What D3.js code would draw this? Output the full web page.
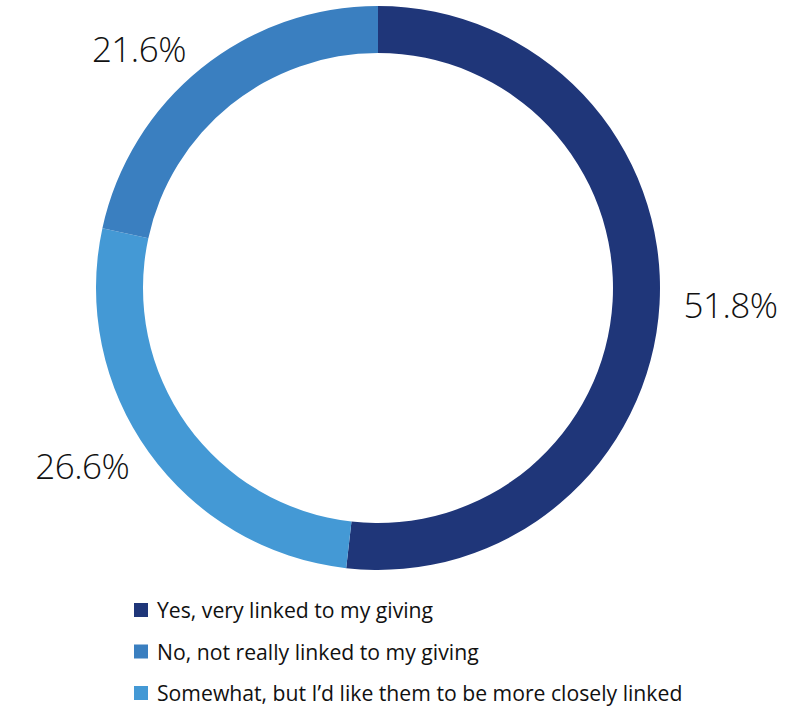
<!DOCTYPE html>
<html>
<head>
<meta charset="utf-8">
<script src="https://cdn.jsdelivr.net/npm/d3@7"></script>
<style>
  html, body { margin: 0; padding: 0; background: #fff; }
  svg { display: block; font-family: "Open Sans", sans-serif; }
</style>
</head>
<body>
<svg id="chart" width="789" height="709"></svg>
<script>
// Slices in drawing order (clockwise from 12 o'clock)
const sliceCategories = ["Yes, very linked to my giving", "Somewhat, but I\u2019d like them to be more closely linked", "No, not really linked to my giving"];
const sliceValues = [51.8, 26.6, 21.6];
const sliceLabels = ["51.8%", "26.6%", "21.6%"];
// Legend order
const legendCategories = ["Yes, very linked to my giving", "No, not really linked to my giving", "Somewhat, but I\u2019d like them to be more closely linked"];
const colors = ["#1f3679", "#3a7fc0", "#4499d5"];

const svg = d3.select("#chart");
const cx = 378, cy = 288, outerR = 282, innerR = 235, labelR = 306;

const color = d3.scaleOrdinal().domain(legendCategories).range(colors);

const pie = d3.pie().sort(null).value(d => d.value);
const data = sliceCategories.map((c, i) => ({cat: c, value: sliceValues[i], label: sliceLabels[i]}));
const arcs = pie(data);

const arc = d3.arc().innerRadius(innerR).outerRadius(outerR);
const labelArc = d3.arc().innerRadius(labelR).outerRadius(labelR);

const g = svg.append("g").attr("transform", `translate(${cx},${cy})`);

g.selectAll("path.slice")
  .data(arcs)
  .join("path")
  .attr("class", "slice")
  .attr("d", arc)
  .attr("fill", d => color(d.data.cat));

g.selectAll("text.lbl")
  .data(arcs)
  .join("text")
  .attr("class", "lbl")
  .attr("transform", d => {
    const [x, y] = labelArc.centroid(d);
    return `translate(${x},${y})`;
  })
  .attr("text-anchor", d => ((d.startAngle + d.endAngle) / 2) < Math.PI ? "start" : "end")
  .attr("dy", "0.35em")
  .attr("font-size", 35)
  .attr("font-weight", 300)
  .attr("letter-spacing", -0.5)
  .attr("fill", "#111")
  .text(d => d.data.label);

// Legend
const legend = svg.append("g").attr("transform", "translate(134,603)");
const rowY = d3.scalePoint().domain(legendCategories).range([0, 83]);
const items = legend.selectAll("g.item")
  .data(legendCategories)
  .join("g")
  .attr("class", "item")
  .attr("transform", d => `translate(0,${rowY(d)})`);
items.append("rect")
  .attr("width", 14).attr("height", 14)
  .attr("fill", d => color(d));
items.append("text")
  .attr("x", 23).attr("y", 8).attr("dy", "0.35em")
  .attr("font-size", 21.2)
  .attr("fill", "#111")
  .text(d => d);
</script>
</body>
</html>
